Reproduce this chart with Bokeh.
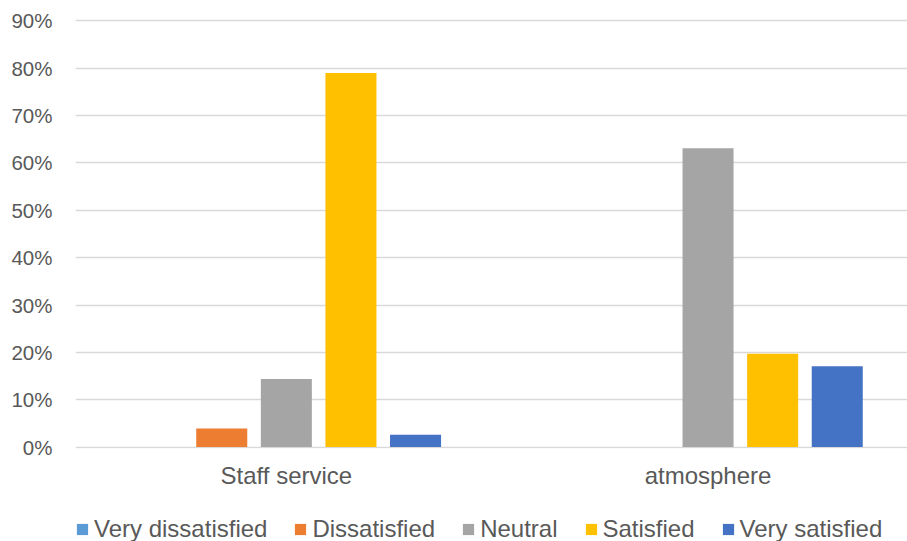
from bokeh.plotting import figure
from bokeh.layouts import column
from bokeh.models import (ColumnDataSource, FixedTicker, NumeralTickFormatter,
                          Legend, LegendItem, Range1d)
from bokeh.embed import file_html
from bokeh.resources import INLINE

# Survey results: share of respondents per satisfaction level
categories = ["Staff service", "atmosphere"]
levels = ["Very dissatisfied", "Dissatisfied", "Neutral", "Satisfied", "Very satisfied"]
very_dissatisfied = [0.0, 0.0]
dissatisfied = [0.039, 0.0]
neutral = [0.144, 0.631]
satisfied = [0.790, 0.197]
very_satisfied = [0.026, 0.1705]
y_ticks = [0.0, 0.1, 0.2, 0.3, 0.4, 0.5, 0.6, 0.7, 0.8, 0.9]

series = [very_dissatisfied, dissatisfied, neutral, satisfied, very_satisfied]
colors = ["#5B9BD5", "#ED7D31", "#A5A5A5", "#FFC000", "#4472C4"]

TEXT = "#595959"
FONT = "Liberation Sans"

# layout of the clustered bars, in category units
step = 0.1532
bar_w = 0.121

p = figure(width=907, height=500, output_backend="svg", toolbar_location=None,
           x_range=Range1d(0, 1.973), y_range=Range1d(-0.003, 0.905),
           min_border_left=75, min_border_right=0, min_border_top=18,
           min_border_bottom=52)
p.outline_line_color = None
p.background_fill_color = "white"
p.border_fill_color = "white"

sources = []
for j, (vals, col) in enumerate(zip(series, colors)):
    xs = [i + 0.5 + (j - 2) * step for i in range(len(categories))]
    src = ColumnDataSource(dict(x=xs, top=vals))
    sources.append(src)
    p.vbar(x="x", top="top", bottom=0, width=bar_w, source=src,
           fill_color=col, line_color=None)

# y axis: percentages with light horizontal gridlines
p.yaxis.ticker = FixedTicker(ticks=y_ticks)
p.yaxis.formatter = NumeralTickFormatter(format="0%")
p.yaxis.axis_line_color = None
p.yaxis.major_tick_line_color = None
p.yaxis.major_tick_out = 0
p.yaxis.major_tick_in = 0
p.yaxis.minor_tick_line_color = None
p.yaxis.major_label_text_font = FONT
p.yaxis.major_label_text_font_size = "20.5px"
p.yaxis.major_label_text_color = TEXT
p.yaxis.major_label_standoff = 23
p.ygrid.ticker = FixedTicker(ticks=y_ticks)
p.ygrid.grid_line_color = "#D9D9D9"
p.ygrid.grid_line_width = 1.3
p.ygrid.level = "underlay"

# x axis: one label per category
p.xaxis.ticker = FixedTicker(ticks=[0.5, 1.5])
p.xaxis.major_label_overrides = {0.5: categories[0], 1.5: categories[1]}
p.xaxis.axis_line_color = None
p.xaxis.major_tick_line_color = None
p.xaxis.major_tick_out = 0
p.xaxis.major_tick_in = 0
p.xaxis.minor_tick_line_color = None
p.xaxis.major_label_text_font = FONT
p.xaxis.major_label_text_font_size = "24px"
p.xaxis.major_label_text_color = TEXT
p.xaxis.major_label_standoff = 13
p.xgrid.grid_line_color = None

# legend strip under the chart; its bars sit outside the strip's visible range
leg = figure(width=907, height=41, output_backend="svg", toolbar_location=None,
             x_range=Range1d(0, 1), y_range=Range1d(5, 6),
             x_axis_location=None, y_axis_location=None, min_border=0)
leg.outline_line_color = None
leg.grid.visible = False
swatches = [leg.vbar(x="x", top="top", bottom=0, width=bar_w, source=src,
                     fill_color=col, line_color=None)
            for src, col in zip(sources, colors)]

legend = Legend(items=[LegendItem(label=lab, renderers=[r])
                       for lab, r in zip(levels, swatches)],
                orientation="horizontal", location=(0, -2),
                padding=0, margin=0, spacing=26, label_standoff=5,
                glyph_width=14, glyph_height=14,
                border_line_color=None, background_fill_alpha=0,
                label_text_font=FONT, label_text_font_size="24px",
                label_text_color=TEXT)
leg.add_layout(legend, "center")

open("out.html", "w").write(file_html(column(p, leg, spacing=0), INLINE))
